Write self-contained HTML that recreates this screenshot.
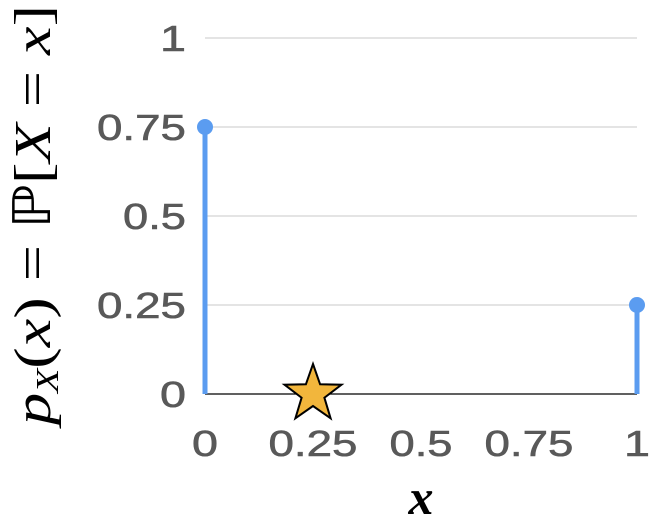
<!DOCTYPE html>
<html><head><meta charset="utf-8"><style>
html,body{margin:0;padding:0;background:#fff;}
svg{display:block;}
</style></head><body>
<svg id="chart" width="653" height="526" viewBox="0 0 653 526" xmlns="http://www.w3.org/2000/svg">
<g id="grid"></g>
<g id="yticks" font-family="Liberation Sans, sans-serif" font-size="36" fill="#595959" stroke="#595959" stroke-width="0.6" text-anchor="end"></g>
<g id="xticks" font-family="Liberation Sans, sans-serif" font-size="36" fill="#595959" stroke="#595959" stroke-width="0.6" text-anchor="middle"></g>
<line x1="205" y1="394" x2="637" y2="394" stroke="#000" stroke-width="1.2"/>
<g id="stems"></g>
<g id="marker"></g>
<text x="421" y="514" font-family="Liberation Serif, serif" font-style="italic" font-weight="bold" font-size="50" text-anchor="middle">x</text>
<text transform="translate(50,215) rotate(-90)" font-family="Liberation Serif, serif" font-size="52" text-anchor="middle" textLength="420" lengthAdjust="spacingAndGlyphs"><tspan font-style="italic">p</tspan><tspan font-style="italic" font-size="32" dy="8">X</tspan><tspan dy="-8">(</tspan><tspan font-style="italic">x</tspan><tspan>) = ℙ[</tspan><tspan font-style="italic">X</tspan><tspan> = </tspan><tspan font-style="italic">x</tspan><tspan>]</tspan></text>
</svg>
<script>
const yTicks=[0,0.25,0.5,0.75,1];
const yTickLabels=["0","0.25","0.5","0.75","1"];
const xTicks=[0,0.25,0.5,0.75,1];
const xTickLabels=["0","0.25","0.5","0.75","1"];
const stemX=[0,1];
const stemP=[0.75,0.25];
const starX=[0.25];
const starY=[0];
const NS="http://www.w3.org/2000/svg";
const X=v=>205+v*432, Y=v=>394-v*356;
function mk(t,a,p){const e=document.createElementNS(NS,t);for(const k in a)e.setAttribute(k,a[k]);p.appendChild(e);return e;}
function tl(s){let w=0;for(const c of s)w+=(c==='.'?11:26);return w;}
const grid=document.getElementById('grid'),yt=document.getElementById('yticks'),xt=document.getElementById('xticks'),st=document.getElementById('stems'),mg=document.getElementById('marker');
yTicks.forEach((v,i)=>{
 if(v>0){const l=mk('line',{x1:205,x2:637,y1:Y(v),y2:Y(v),stroke:'#c8c8c8','stroke-width':1},grid);
 
 }
 const t=mk('text',{x:186,y:Y(v)+13,textLength:tl(yTickLabels[i]),lengthAdjust:'spacingAndGlyphs'},yt);t.textContent=yTickLabels[i];
 
 
});
xTicks.forEach((v,i)=>{
 const t=mk('text',{x:X(v),y:456,textLength:tl(xTickLabels[i]),lengthAdjust:'spacingAndGlyphs'},xt);t.textContent=xTickLabels[i];
 
 
});
stemX.forEach((v,i)=>{
 const l=mk('line',{x1:X(v),x2:X(v),y1:Y(0),y2:Y(stemP[i]),stroke:'#5b9cf0','stroke-width':5},st);
 
 
 const c=mk('circle',{cx:X(v),cy:Y(stemP[i]),r:8,fill:'#5b9cf0'},st);
 
 
});
starX.forEach((v,i)=>{
 const cx=X(v),cy=Y(starY[i]),R=30,r=12;let pts=[];
 for(let k=0;k<10;k++){const a=-Math.PI/2+k*Math.PI/5,rr=k%2?r:R;pts.push((cx+rr*Math.cos(a)).toFixed(1)+','+(cy+rr*Math.sin(a)).toFixed(1));}
 const p=mk('polygon',{points:pts.join(' '),fill:'#f2b63c',stroke:'#000','stroke-width':2,'stroke-linejoin':'miter'},mg);
 
 
});
</script>
</body></html>
